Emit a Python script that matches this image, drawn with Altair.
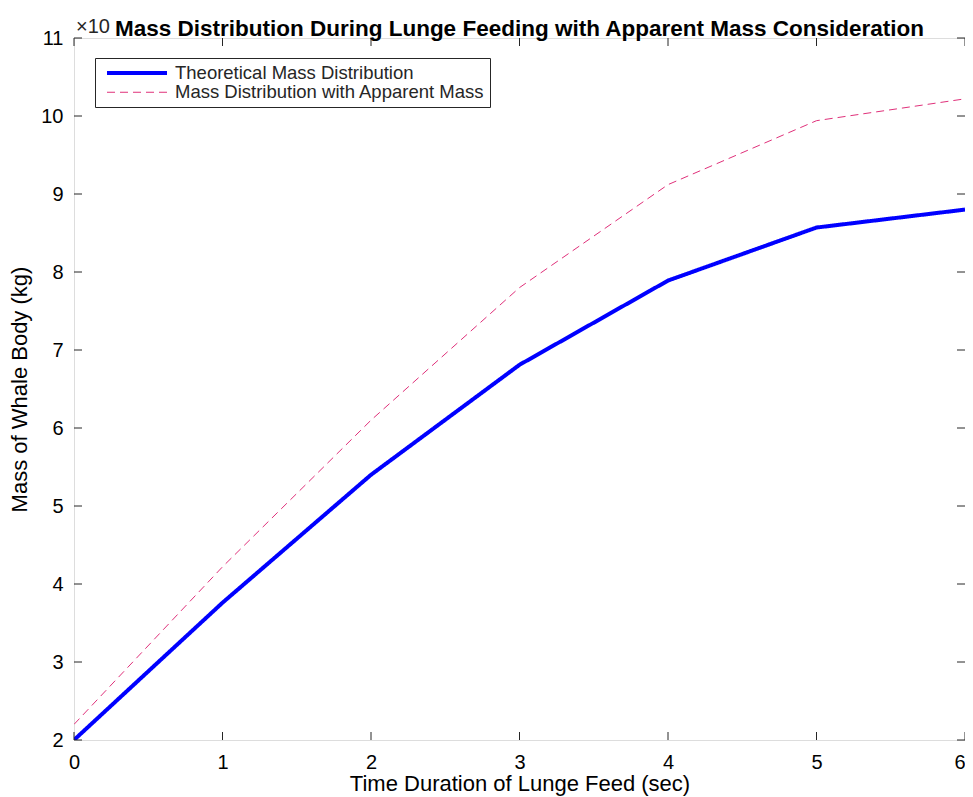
import altair as alt
import pandas as pd

# ---- data (values in kg) ----
time_sec = [0, 1, 2, 3, 4, 5, 6]
theoretical_mass = [20000, 37600, 54000, 68100, 78900, 85700, 88000]
apparent_mass = [22000, 42200, 61000, 78000, 91200, 99400, 102200]
series_names = ["Theoretical Mass Distribution", "Mass Distribution with Apparent Mass"]
x_ticks = [0, 1, 2, 3, 4, 5, 6]
y_ticks = [20000, 30000, 40000, 50000, 60000, 70000, 80000, 90000, 100000, 110000]

W, H = 891, 702
FONT = "Liberation Sans"
TXT = "#262626"

df = pd.DataFrame({
    "t": time_sec + time_sec,
    "mass": theoretical_mass + apparent_mass,
    "series": [series_names[0]] * len(time_sec) + [series_names[1]] * len(time_sec),
})
xt = pd.DataFrame({"t": x_ticks})
yt = pd.DataFrame({"mass": y_ticks})

x_scale = alt.Scale(domain=[0, 6], nice=False, zero=False)
y_scale = alt.Scale(domain=[20000, 110000], nice=False, zero=False)

x_axis = alt.Axis(values=x_ticks, title="Time Duration of Lunge Feed (sec)",
                  titleFontSize=22, titleFontWeight="normal", labelFontSize=20,
                  labelPadding=12, titlePadding=1, labelFlush=False,
                  labelAlign={"condition": {"test": "datum.value == 6", "value": "right"}, "value": "center"},
                  domain=False, ticks=False, grid=False)
y_axis = alt.Axis(values=y_ticks, labelExpr="datum.value / 10000",
                  title="Mass of Whale Body (kg)", titleFontSize=22, titleFontWeight="normal",
                  labelFontSize=20, labelPadding=11, titlePadding=9, labelFlush=False,
                  domain=False, ticks=False, grid=False)

leg = alt.Legend(
    title=None, orient="none", legendX=21, legendY=20,
    symbolType="M-0.375,0H7.125", symbolSize=256, labelFont=FONT, labelFontSize=18.5,
    labelColor=TXT, labelLimit=600, padding=5, strokeColor=TXT, fillColor="white",
    rowPadding=0, labelOffset=55, cornerRadius=0,
)

lines = alt.Chart(df).mark_line(clip=True).encode(
    x=alt.X("t:Q", scale=x_scale, axis=x_axis),
    y=alt.Y("mass:Q", scale=y_scale, axis=y_axis),
    color=alt.Color("series:N", scale=alt.Scale(domain=series_names, range=["#0000ff", "#e0307a"]), legend=leg),
    strokeDash=alt.StrokeDash("series:N", scale=alt.Scale(domain=series_names, range=[[1, 0], [8, 5]]), legend=leg),
    strokeWidth=alt.StrokeWidth("series:N", scale=alt.Scale(domain=series_names, range=[4, 1]), legend=leg),
)

tick_x_bottom = alt.Chart(xt).mark_rule(color=TXT, strokeWidth=1).encode(
    x=alt.X("t:Q", scale=x_scale, axis=x_axis), y=alt.value(H), y2=alt.value(H - 8))
tick_x_top = alt.Chart(xt).mark_rule(color=TXT, strokeWidth=1).encode(
    x=alt.X("t:Q", scale=x_scale, axis=x_axis), y=alt.value(0), y2=alt.value(8))
tick_y_left = alt.Chart(yt).mark_rule(color=TXT, strokeWidth=1).encode(
    y=alt.Y("mass:Q", scale=y_scale, axis=y_axis), x=alt.value(0), x2=alt.value(8))
tick_y_right = alt.Chart(yt).mark_rule(color=TXT, strokeWidth=1).encode(
    y=alt.Y("mass:Q", scale=y_scale, axis=y_axis), x=alt.value(W), x2=alt.value(W - 8))

expo = alt.Chart(pd.DataFrame({"label": ["×10"]})).mark_text(
    font=FONT, fontSize=20, color=TXT, align="left", baseline="middle"
).encode(text="label:N", x=alt.value(2), y=alt.value(-11))

chart = alt.layer(
    lines, tick_x_bottom, tick_x_top, tick_y_left, tick_y_right, expo
).properties(
    width=W, height=H,
    title=alt.TitleParams(
        "Mass Distribution During Lunge Feeding with Apparent Mass Consideration",
        font=FONT, fontSize=22.5, fontWeight="bold", color="black", anchor="middle",
        frame="group", offset=0, dy=23),
    padding={"left": 66, "top": 30, "right": 0, "bottom": 57},
    autosize="none",
).configure_view(
    stroke=TXT, strokeWidth=1
).configure_axis(
    labelFont=FONT, titleFont=FONT, labelColor=TXT, titleColor=TXT, titleFontWeight="normal"
).configure(background="white")

chart.save("out.html", embed_options={"renderer": "svg", "actions": False})
